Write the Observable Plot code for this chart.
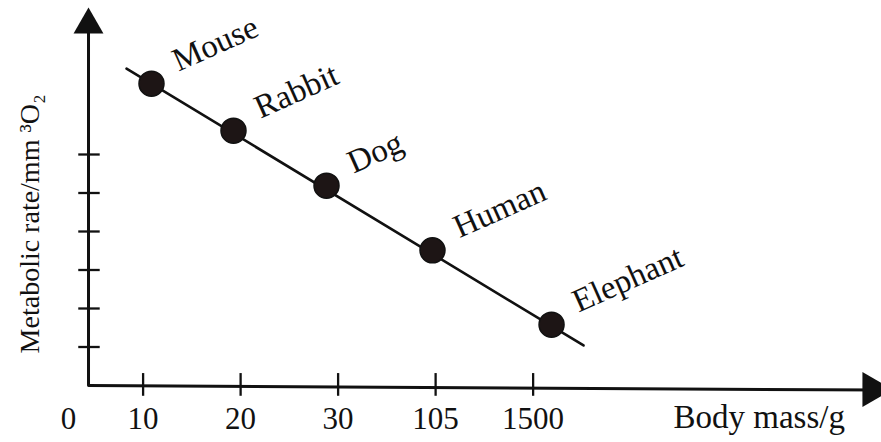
<!DOCTYPE html>
<html>
<head>
<meta charset="utf-8">
<script src="https://cdn.jsdelivr.net/npm/d3@7"></script>
<script src="https://cdn.jsdelivr.net/npm/@observablehq/plot@0.6"></script>
<style>
  html, body { margin: 0; padding: 0; background: #ffffff; }
  #chart svg { display: block; }
</style>
</head>
<body>
<div id="chart"></div>
<script>
// Schematic axes: body mass ticks are evenly spaced slots, metabolic rate has unlabeled ticks
const animals = ["Mouse", "Rabbit", "Dog", "Human", "Elephant"];
const massSlot = [1.086, 1.927, 2.881, 3.968, 5.189];   // position along the body-mass axis
const rateValue = [7.84, 6.62, 5.19, 3.51, 1.58];        // metabolic rate (schematic units)

const massTicks = [1, 2, 3, 4, 5];
const massTickLabels = ["10", "20", "30", "105", "1500"];
const rateTicks = [1, 2, 3, 4, 5, 6];

const trendX = [0.83, 5.517];
const trendY = [8.23, 1.04];

const originLabel = "0";
const xAxisLabel = "Body mass/g";
const yAxisLabel = "Metabolic rate/mm ³O₂";

const xOrigin = 0.44;
const yAxisTop = 9.2;
const xAxisEnd = [8.6, -0.12];

const points = animals.map((name, i) => ({name, x: massSlot[i], y: rateValue[i]}));
const trend = trendX.map((x, i) => ({x, y: trendY[i]}));
const ink = "#111111";
const font = "'Liberation Serif', 'Times New Roman', serif";

const chart = Plot.plot({
  width: 881,
  height: 442,
  marginTop: 0, marginRight: 0, marginBottom: 0, marginLeft: 0,
  x: {type: "linear", domain: [-0.4626, 8.573], axis: null},
  y: {type: "linear", domain: [-1.4805, 10], axis: null},
  style: {fontFamily: font, background: "#ffffff", color: ink},
  marks: [
    // axes
    Plot.line([[xOrigin, 0], xAxisEnd], {stroke: ink, strokeWidth: 3}),
    Plot.ruleX([xOrigin], {y1: 0, y2: yAxisTop, stroke: ink, strokeWidth: 3}),
    Plot.dot([[xOrigin, 9.37]], {symbol: "triangle", r: 11.1, fill: ink, stroke: "none"}),
    Plot.dot([[8.481, -0.104]], {symbol: "triangle", r: 13, rotate: 90, fill: ink, stroke: "none"}),
    // ticks
    Plot.ruleX(massTicks, {x: d => d, y1: -0.28, y2: 0.31, stroke: ink, strokeWidth: 2.3}),
    Plot.ruleY(rateTicks, {y: d => d, x1: xOrigin - 0.1, x2: xOrigin + 0.12, stroke: ink, strokeWidth: 2.3}),
    // tick labels
    Plot.text(massTicks, {x: d => d, y: 0, text: (d, i) => massTickLabels[i], dy: 43, lineAnchor: "bottom", fontSize: 31, fill: ink}),
    Plot.text([originLabel], {x: xOrigin, y: 0, dx: -20, dy: 43, lineAnchor: "bottom", fontSize: 31, fill: ink}),
    Plot.text([xAxisLabel], {x: 6.44, y: 0, dy: 42, textAnchor: "start", lineAnchor: "bottom", fontSize: 33, fill: ink}),
    Plot.text([yAxisLabel], {frameAnchor: "left", y: 4.2, dx: 38, rotate: -90, textAnchor: "middle", lineAnchor: "bottom", fontSize: 28, fill: ink}),
    // trend line and points
    Plot.line(trend, {x: "x", y: "y", stroke: ink, strokeWidth: 2.6}),
    Plot.dot(points, {x: "x", y: "y", r: 12.5, fill: "#1d1515", stroke: ink, strokeWidth: 1.5}),
    Plot.text(points, {x: "x", y: "y", text: "name", dx: 27, dy: -12, rotate: -24, textAnchor: "start", lineAnchor: "bottom", fontSize: 33, fill: ink})
  ]
});
document.getElementById("chart").append(chart);
</script>
</body>
</html>
